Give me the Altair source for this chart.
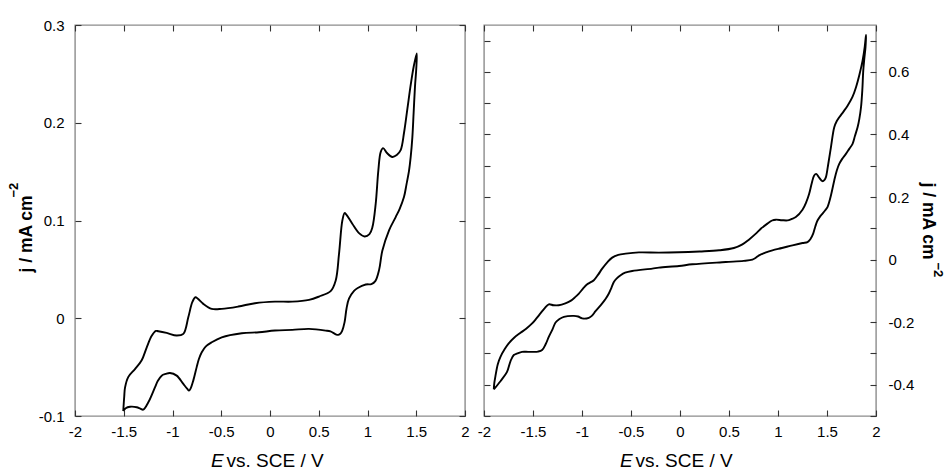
import json
import altair as alt
import pandas as pd

# ---------------- data ----------------
left_E = [-1.505, -1.495, -1.487, -1.453, -1.385, -1.316, -1.265, -1.213, -1.170, -1.145,
          -1.060, -0.957, -0.889, -0.838, -0.797, -0.765, -0.740, -0.684, -0.598, -0.495,
          -0.325, -0.154, 0.051, 0.229, 0.400, 0.503, 0.622, 0.674, 0.708, 0.742,
          0.765, 0.783, 0.844, 0.913, 0.970, 1.020, 1.050, 1.084, 1.111, 1.135,
          1.160, 1.200, 1.254, 1.300, 1.340, 1.375, 1.410, 1.445, 1.475, 1.505,
          1.500, 1.487, 1.473, 1.460, 1.443, 1.426, 1.400, 1.374, 1.330, 1.289,
          1.221, 1.152, 1.120, 1.080, 1.040, 0.982, 0.900, 0.862, 0.810, 0.785,
          0.765, 0.740, 0.725, 0.700, 0.680, 0.620, 0.571, 0.400, 0.229, 0.051,
          -0.113, -0.290, -0.495, -0.598, -0.660, -0.700, -0.730, -0.752, -0.787, -0.815,
          -0.831, -0.850, -0.889, -0.957, -1.026, -1.070, -1.111, -1.150, -1.180, -1.248,
          -1.300, -1.330, -1.367, -1.436, -1.480, -1.505]
left_j = [-0.095, -0.080, -0.071, -0.060, -0.052, -0.043, -0.030, -0.018, -0.013, -0.0133,
          -0.015, -0.0177, -0.016, 0.001, 0.0164, 0.0215, 0.020, 0.0147, 0.0096, 0.0096,
          0.012, 0.0154, 0.017, 0.017, 0.0188, 0.0222, 0.0277, 0.0386, 0.066, 0.100,
          0.1076, 0.106, 0.0967, 0.0871, 0.0837, 0.086, 0.093, 0.117, 0.151, 0.170,
          0.174, 0.169, 0.165, 0.167, 0.172, 0.190, 0.215, 0.240, 0.258, 0.271,
          0.255, 0.237, 0.210, 0.185, 0.165, 0.151, 0.137, 0.124, 0.112, 0.1035,
          0.090, 0.069, 0.050, 0.038, 0.035, 0.0345, 0.031, 0.028, 0.020, 0.010,
          -0.004, -0.013, -0.0155, -0.017, -0.0167, -0.0135, -0.0126, -0.0109, -0.0119, -0.0126,
          -0.0143, -0.0154, -0.0195, -0.0246, -0.029, -0.0348, -0.042, -0.050, -0.0638, -0.072,
          -0.074, -0.072, -0.0672, -0.0587, -0.056, -0.057, -0.0587, -0.064, -0.0707, -0.086,
          -0.0935, -0.0925, -0.091, -0.0905, -0.092, -0.095]

right_E = [-1.900, -1.895, -1.884, -1.860, -1.832, -1.790, -1.748, -1.690, -1.628, -1.570,
           -1.509, -1.465, -1.424, -1.380, -1.339, -1.290, -1.237, -1.170, -1.117, -1.070,
           -1.032, -0.990, -0.947, -0.910, -0.879, -0.835, -0.794, -0.740, -0.692, -0.630,
           -0.555, -0.419, -0.215, -0.010, 0.200, 0.399, 0.550, 0.637, 0.700, 0.774,
           0.830, 0.892, 0.940, 0.978, 1.040, 1.097, 1.140, 1.182, 1.250, 1.290,
           1.318, 1.345, 1.369, 1.390, 1.420, 1.454, 1.475, 1.489, 1.510, 1.540,
           1.574, 1.600, 1.625, 1.670, 1.710, 1.760, 1.796, 1.830, 1.863, 1.885,
           1.898,
           1.893, 1.880, 1.870, 1.860, 1.847, 1.830, 1.812, 1.785, 1.761, 1.727,
           1.693, 1.655, 1.625, 1.600, 1.574, 1.540, 1.505, 1.480, 1.454, 1.430,
           1.403, 1.380, 1.359, 1.330, 1.301, 1.250, 1.148, 1.040, 0.943, 0.870,
           0.807, 0.770, 0.739, 0.650, 0.467, 0.126, -0.010, -0.215, -0.283, -0.488,
           -0.560, -0.606, -0.645, -0.675, -0.700, -0.726, -0.760, -0.794, -0.862, -0.900,
           -0.930, -0.998, -1.040, -1.083, -1.185, -1.230, -1.270, -1.300, -1.339, -1.370,
           -1.407, -1.450, -1.492, -1.550, -1.612, -1.660, -1.696, -1.730, -1.765, -1.830,
           -1.900]
right_j = [-0.415, -0.395, -0.374, -0.335, -0.311, -0.287, -0.268, -0.249, -0.234, -0.221,
           -0.204, -0.188, -0.172, -0.155, -0.143, -0.146, -0.146, -0.140, -0.132, -0.120,
           -0.1085, -0.093, -0.079, -0.072, -0.066, -0.048, -0.029, -0.008, 0.0064, 0.015,
           0.019, 0.023, 0.0223, 0.0233, 0.026, 0.0297, 0.037, 0.0488, 0.063, 0.083,
           0.100, 0.115, 0.125, 0.1276, 0.126, 0.1254, 0.130, 0.136, 0.1595, 0.185,
           0.2105, 0.245, 0.269, 0.274, 0.262, 0.2507, 0.255, 0.2635, 0.300, 0.359,
           0.423, 0.443, 0.455, 0.474, 0.492, 0.520, 0.551, 0.590, 0.636, 0.680,
           0.718,
           0.680, 0.640, 0.604, 0.540, 0.487, 0.450, 0.423, 0.395, 0.370, 0.354,
           0.338, 0.322, 0.306, 0.285, 0.253, 0.205, 0.168, 0.157, 0.147, 0.138,
           0.125, 0.105, 0.083, 0.065, 0.056, 0.053, 0.0456, 0.037, 0.0297, 0.022,
           0.0137, 0.005, 0.000, -0.004, -0.0077, -0.015, -0.0204, -0.0255, -0.0287, -0.0364,
           -0.042, -0.050, -0.060, -0.0714, -0.090, -0.1085, -0.126, -0.140, -0.165, -0.180,
           -0.186, -0.188, -0.182, -0.180, -0.183, -0.190, -0.201, -0.222, -0.247, -0.270,
           -0.289, -0.294, -0.295, -0.295, -0.295, -0.300, -0.305, -0.325, -0.359, -0.388,
           -0.415]

x_ticks = [-2, -1.5, -1, -0.5, 0, 0.5, 1, 1.5, 2]
x_domain = [-2, 2]
left_y_ticks = [-0.1, 0, 0.1, 0.2, 0.3]
left_y_domain = [-0.1, 0.3]
right_y_ticks = [-0.5, -0.4, -0.3, -0.2, -0.1, 0, 0.1, 0.2, 0.3, 0.4, 0.5, 0.6, 0.7]
right_y_labels = [-0.4, -0.2, 0, 0.2, 0.4, 0.6]
right_y_domain = [-0.5, 0.75]

x_title_italic = ["E"]
x_title_rest = ["vs. SCE / V"]
y_title_main = ["j / mA cm"]
y_title_sup = ["\u22122"]

# ---------------- styling ----------------
FONT = "Liberation Sans"
TICK = 6
W_L, W_R, H = 390, 392, 391


def tick_axis(orient, values, **kw):
    base = dict(orient=orient, values=values, offset=-TICK, tickSize=TICK, domain=False,
                grid=False, title=None, tickColor="#333333", tickWidth=1.1,
                labelOverlap=False, labelFlush=False, labelBound=False)
    base.update(kw)
    return alt.Axis(**base)


def txt(values, x, y, size, angle=0, style="normal", weight="normal"):
    kw = dict(font=FONT, fontSize=size, fontStyle=style, fontWeight=weight,
              align="left", baseline="alphabetic", color="black")
    if angle:
        kw["angle"] = angle
    return alt.Chart(pd.DataFrame({"t": values})).mark_text(**kw).encode(
        x=alt.value(x), y=alt.value(y), text="t:N")


def panel(E, j, y_dom, y_ticks, side, y_label_expr, width):
    df = pd.DataFrame({"E": E, "j": j, "i": list(range(len(E)))})
    xs = alt.Scale(domain=x_domain, nice=False, zero=False)
    ys = alt.Scale(domain=y_dom, nice=False, zero=False)
    other = "right" if side == "left" else "left"

    labelled_y = tick_axis(side, y_ticks, labelExpr=y_label_expr,
                           labelPadding=11 if side == "left" else 12)
    plain_y = tick_axis(other, y_ticks, labels=False)
    bottom_x = tick_axis("bottom", x_ticks, labelExpr="toString(datum.value)", labelPadding=8)
    top_x = tick_axis("top", x_ticks, labels=False)

    line = alt.Chart(df).mark_line(color="black", strokeWidth=1.9,
                                   interpolate="catmull-rom").encode(
        x=alt.X("E:Q", scale=xs, axis=bottom_x),
        y=alt.Y("j:Q", scale=ys, axis=labelled_y if side == "left" else plain_y),
        order="i:Q",
    )
    hidden = alt.Chart(df).mark_point(opacity=0, size=1).encode(
        x=alt.X("E:Q", scale=xs, axis=top_x),
        y=alt.Y("j:Q", scale=ys, axis=plain_y if side == "left" else labelled_y),
    )
    layers = [line, hidden,
              txt(x_title_italic, 136, 442, 19, style="italic"),
              txt(x_title_rest, 151.5, 442, 19)]
    if side == "left":
        layers += [txt(y_title_main, -43, 247.5, 17.5, angle=270, weight="bold"),
                   txt(y_title_sup, -57, 172.5, 13, angle=270, weight="bold")]
    else:
        layers += [txt(y_title_main, width + 47, 157.5, 17.5, angle=90, weight="bold"),
                   txt(y_title_sup, width + 58, 237.5, 13, angle=90, weight="bold")]
    return alt.layer(*layers).resolve_axis(
        x="independent", y="independent").properties(width=width, height=H)


left_expr = "toString(datum.value)"
right_expr = "indexof(" + json.dumps(right_y_labels) + ", datum.value) >= 0 ? toString(datum.value) : ''"

left = panel(left_E, left_j, left_y_domain, left_y_ticks, "left", left_expr, W_L)
right = panel(right_E, right_j, right_y_domain, right_y_ticks, "right", right_expr, W_R)

chart = alt.hconcat(left, right, spacing=19, bounds="flush").properties(
    padding={"left": 7, "top": 17, "right": 4, "bottom": 0},
    background="white",
).configure_view(stroke="#8c8c8c", strokeWidth=1.4).configure_axis(
    labelFont=FONT, labelFontSize=15, labelColor="black"
)

chart.save("out.html", embed_options={"renderer": "svg", "actions": False})
